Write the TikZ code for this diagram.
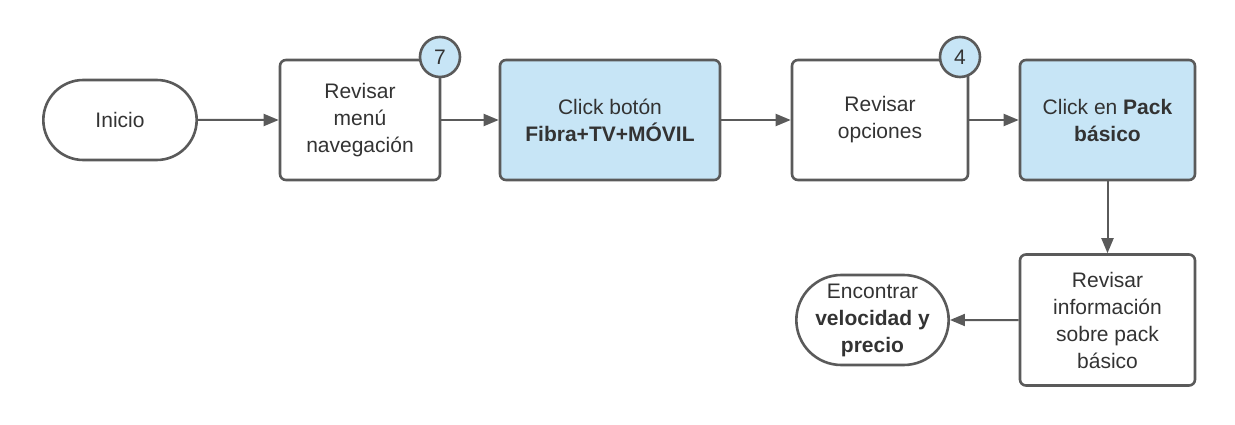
\documentclass[tikz,border=0pt]{standalone}
\usepackage{fontspec}
\setmainfont{Liberation Sans}
\usetikzlibrary{arrows.meta,shapes.misc}
\definecolor{edge}{HTML}{5A5A5A}
\definecolor{txt}{HTML}{333333}
\definecolor{lblue}{HTML}{C7E5F6}
\begin{document}
\begin{tikzpicture}[x=1pt,y=-1pt,
  every node/.style={font=\fontsize{21}{27}\selectfont, text=txt, align=center},
  box/.style={draw=edge, line width=2.6pt, rounded corners=6pt, fill=white},
  bluebox/.style={box, fill=lblue},
  term/.style={draw=edge, line width=2.6pt, rounded rectangle, fill=white},
  badge/.style={draw=edge, line width=2.6pt, circle, fill=lblue, minimum size=40pt, inner sep=0pt},
  arr/.style={draw=edge, line width=2pt, -{Triangle[length=15pt,width=12pt]}}]
\useasboundingbox (0,0) rectangle (1235,425);
\node[term, minimum width=160pt, minimum height=80pt] (inicio) at (120,120) {Inicio};
\node[box, minimum width=160pt, minimum height=120pt] (menu) at (360,120) {Revisar\\menú\\navegación};
\node[bluebox, minimum width=220pt, minimum height=120pt] (fibra) at (610,120) {Click botón\\\textbf{Fibra+TV+MÓVIL}};
\node[box, minimum width=176pt, minimum height=120pt] (opc) at (880,120) {Revisar\\opciones};
\node[bluebox, minimum width=175pt, minimum height=120pt] (pack) at (1107.5,120) {Click en \textbf{Pack}\\\textbf{básico}};
\node[box, minimum width=175pt, minimum height=131pt] (info) at (1107.5,320) {Revisar\\información\\sobre pack\\básico};
\node[term, minimum width=159pt, minimum height=90pt] (fin) at (872.5,320) {Encontrar\\\textbf{velocidad y}\\\textbf{precio}};
\node[badge] (b7) at (440,57) {7};
\node[badge] (b4) at (960,57) {4};
\draw[arr] (inicio) -- (menu);
\draw[arr] (menu) -- (fibra);
\draw[arr] (fibra) -- (opc);
\draw[arr] (opc) -- (pack);
\draw[arr] (pack) -- (info);
\draw[arr] (info) -- (fin);
\end{tikzpicture}
\end{document}
